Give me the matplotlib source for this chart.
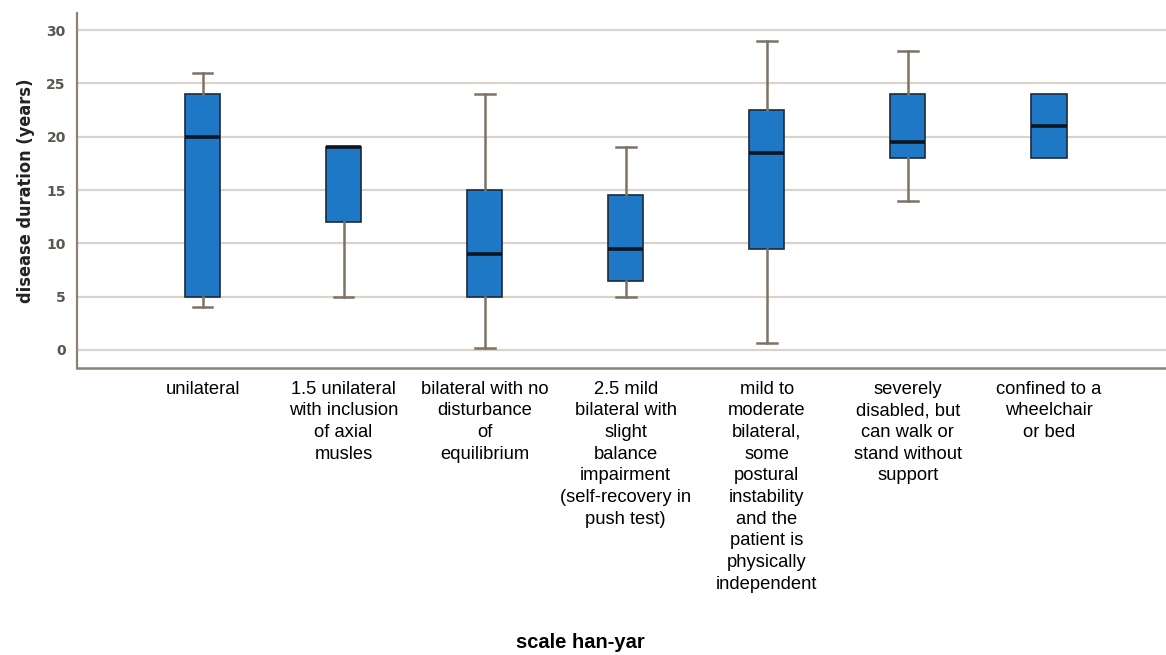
import numpy as np
import matplotlib.pyplot as plt

# Hoehn & Yahr stage groups and disease duration summary (years)
categories = [
    "unilateral",
    "1.5 unilateral\nwith inclusion\nof axial\nmusles",
    "bilateral with no\ndisturbance\nof\nequilibrium",
    "2.5 mild\nbilateral with\nslight\nbalance\nimpairment\n(self-recovery in\npush test)",
    "mild to\nmoderate\nbilateral,\nsome\npostural\ninstability\nand the\npatient is\nphysically\nindependent",
    "severely\ndisabled, but\ncan walk or\nstand without\nsupport",
    "confined to a\nwheelchair\nor bed",
]
whisker_low = [4, 5, 0.2, 5, 0.7, 14, 18]
q1 = [5, 12, 5, 6.5, 9.5, 18, 18]
median = [20, 19, 9, 9.5, 18.5, 19.5, 21]
q3 = [24, 19, 15, 14.5, 22.5, 24, 24]
whisker_high = [26, 19, 24, 19, 29, 28, 24]

stats = []
for i in range(len(categories)):
    stats.append(dict(whislo=whisker_low[i], q1=q1[i], med=median[i],
                      q3=q3[i], whishi=whisker_high[i], fliers=[]))

fig = plt.figure(figsize=(11.66, 6.55), dpi=100)
ax = fig.add_axes([0.066, 0.438, 0.934, 0.542])

grid_col = "#d9d3cb"
line_col = "#7d7365"
for y in range(0, 31, 5):
    ax.axhline(y, color=grid_col, lw=1.6, zorder=0)

pos = np.arange(len(categories))
parts = ax.bxp(stats, positions=pos, widths=0.25, patch_artist=True, showfliers=False,
               boxprops=dict(facecolor="#1f78c6", edgecolor="#1c2a38", linewidth=1.2),
               medianprops=dict(color="#0d1620", linewidth=2.6),
               whiskerprops=dict(color=line_col, linewidth=1.8),
               capprops=dict(color=line_col, linewidth=1.8),
               capwidths=0.14, zorder=3)

# no whisker/cap when it falls on the box edge
for i in range(len(categories)):
    if whisker_low[i] == q1[i]:
        parts["caps"][2 * i].set_visible(False)
    if whisker_high[i] == q3[i]:
        parts["caps"][2 * i + 1].set_visible(False)

ax.set_xlim(-0.89, 6.83)
ax.set_ylim(-1.7, 31.6)
ax.set_yticks(range(0, 31, 5))
ax.tick_params(axis="y", length=0, pad=8, labelsize=10, labelcolor="#5a5650")
for lab in ax.get_yticklabels():
    lab.set_fontweight("bold")
ax.set_xticks(pos)
ax.set_xticklabels(categories, family="Liberation Sans", fontsize=13.2,
                   linespacing=1.36, va="top")
ax.tick_params(axis="x", length=0, pad=9)

for s in ["top", "right"]:
    ax.spines[s].set_visible(False)
ax.spines["left"].set_color("#8a8176")
ax.spines["left"].set_linewidth(1.6)
ax.spines["bottom"].set_color("#8a8176")
ax.spines["bottom"].set_linewidth(1.8)

ax.set_ylabel("disease duration (years)", fontsize=13, fontweight="bold",
              family="DejaVu Sans", fontstretch="condensed", color="#222222",
              labelpad=8)
fig.text(0.498, 0.005, "scale han-yar", ha="center", va="bottom",
         fontsize=14.5, fontweight="bold", family="Liberation Sans")

fig.savefig("out.png", dpi=100)
